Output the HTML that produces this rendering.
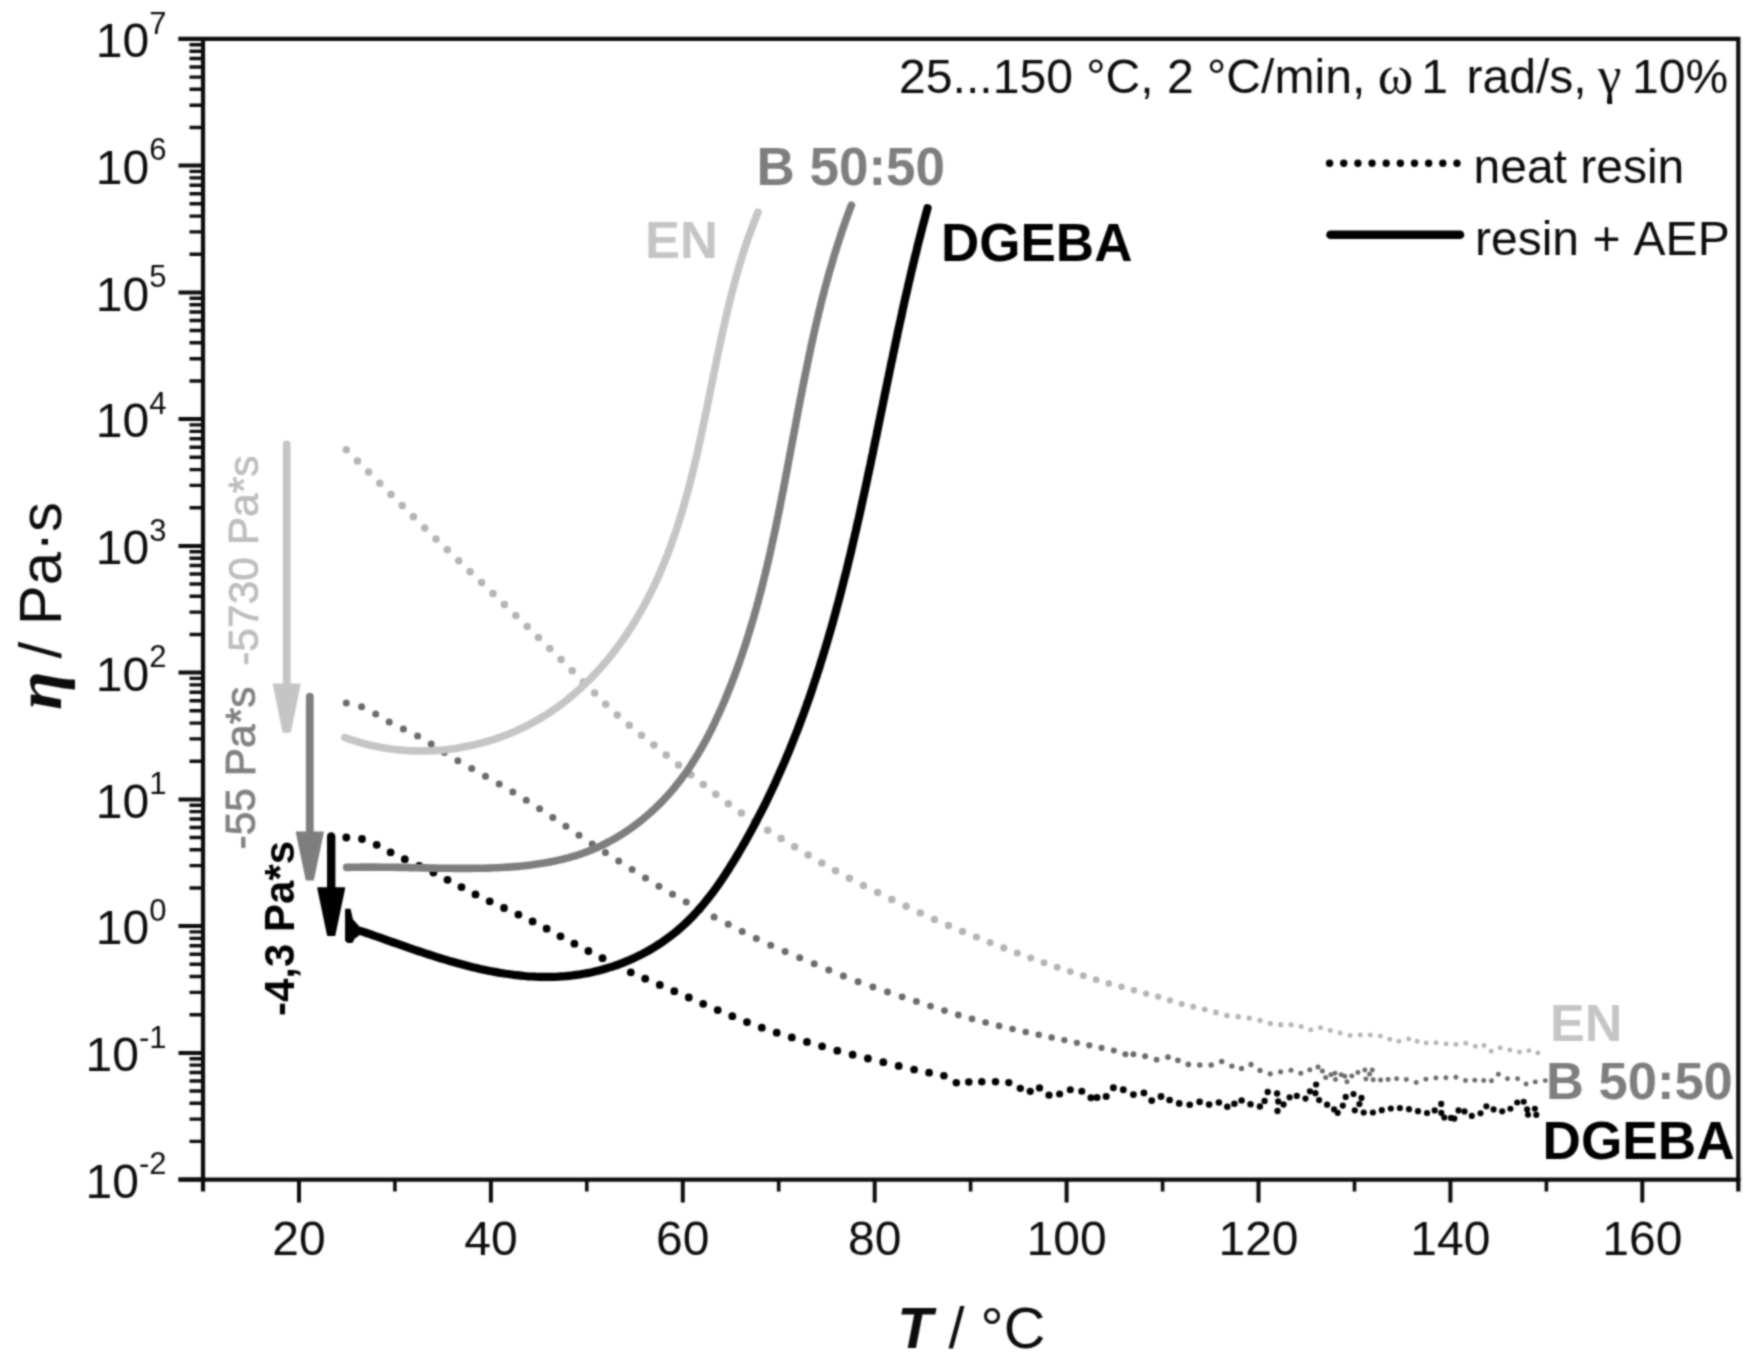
<!DOCTYPE html>
<html lang="en"><head><meta charset="utf-8"><title>Viscosity vs temperature</title>
<style>html,body{margin:0;padding:0;background:#fff}svg{display:block}text{font-family:"Liberation Sans", Arial, Helvetica, sans-serif}</style></head><body>
<svg width="1752" height="1370" viewBox="0 0 1752 1370">
<defs><filter id="soft" color-interpolation-filters="sRGB" filterUnits="userSpaceOnUse" x="0" y="0" width="1752" height="1370"><feConvolveMatrix order="5" kernelMatrix="1 7 16 7 1 7 49 112 49 7 16 112 256 112 16 7 49 112 49 7 1 7 16 7 1" divisor="1024" edgeMode="duplicate" preserveAlpha="false"/></filter></defs>
<rect width="1752" height="1370" fill="#fff"/>
<g filter="url(#soft)">
<rect width="1752" height="1370" fill="#fff"/>
<g id="plot">
<g fill="#b4b4b4"><circle cx="346.3" cy="449.8" r="3.75"/><circle cx="357.5" cy="461.0" r="3.75"/><circle cx="368.6" cy="472.1" r="3.75"/><circle cx="379.8" cy="483.3" r="3.75"/><circle cx="391.0" cy="494.5" r="3.75"/><circle cx="402.2" cy="505.6" r="3.75"/><circle cx="413.4" cy="516.8" r="3.75"/><circle cx="424.7" cy="527.9" r="3.75"/><circle cx="436.0" cy="538.9" r="3.75"/><circle cx="447.3" cy="549.8" r="3.75"/><circle cx="458.7" cy="560.8" r="3.75"/><circle cx="470.1" cy="571.7" r="3.75"/><circle cx="481.6" cy="582.6" r="3.75"/><circle cx="493.0" cy="593.6" r="3.75"/><circle cx="504.4" cy="604.5" r="3.75"/><circle cx="515.8" cy="615.4" r="3.75"/><circle cx="527.2" cy="626.4" r="3.75"/><circle cx="538.5" cy="637.4" r="3.75"/><circle cx="549.8" cy="648.5" r="3.75"/><circle cx="561.0" cy="659.6" r="3.75"/><circle cx="572.2" cy="670.7" r="3.75"/><circle cx="583.4" cy="681.9" r="3.75"/><circle cx="594.6" cy="693.1" r="3.75"/><circle cx="605.7" cy="704.3" r="3.75"/><circle cx="617.2" cy="715.1" r="3.75"/><circle cx="629.3" cy="725.3" r="3.75"/><circle cx="641.5" cy="735.3" r="3.75"/><circle cx="653.9" cy="745.1" r="3.75"/><circle cx="666.2" cy="755.0" r="3.75"/><circle cx="678.5" cy="764.9" r="3.75"/><circle cx="690.9" cy="774.8" r="3.75"/><circle cx="703.3" cy="784.6" r="3.75"/><circle cx="715.8" cy="794.2" r="3.75"/><circle cx="728.4" cy="803.7" r="3.75"/><circle cx="741.3" cy="812.9" r="3.75"/><circle cx="754.4" cy="821.7" r="3.75"/><circle cx="767.7" cy="830.3" r="3.75"/><circle cx="781.1" cy="838.6" r="3.75"/><circle cx="794.6" cy="846.8" r="3.75"/><circle cx="808.1" cy="854.9" r="3.75"/><circle cx="821.8" cy="862.9" r="3.75"/><circle cx="835.5" cy="870.7" r="3.75"/><circle cx="849.4" cy="878.3" r="3.75"/><circle cx="863.4" cy="885.5" r="3.75"/><circle cx="877.6" cy="892.6" r="3.75"/><circle cx="891.8" cy="899.4" r="3.75"/><circle cx="906.1" cy="906.2" r="3.74"/><circle cx="920.3" cy="912.9" r="3.71"/><circle cx="934.4" cy="919.4" r="3.68"/><circle cx="948.5" cy="925.5" r="3.66"/><circle cx="962.5" cy="931.4" r="3.63"/><circle cx="976.4" cy="937.0" r="3.60"/><circle cx="990.1" cy="942.6" r="3.57"/><circle cx="1003.8" cy="947.9" r="3.55"/><circle cx="1017.3" cy="953.1" r="3.52"/><circle cx="1030.7" cy="958.1" r="3.50"/><circle cx="1044.0" cy="962.8" r="3.47"/><circle cx="1057.2" cy="967.3" r="3.44"/><circle cx="1070.3" cy="971.6" r="3.42"/><circle cx="1083.3" cy="975.7" r="3.39"/><circle cx="1096.2" cy="979.7" r="3.33"/><circle cx="1108.8" cy="983.6" r="3.28"/><circle cx="1121.5" cy="986.7" r="3.23"/><circle cx="1133.9" cy="990.2" r="3.18"/><circle cx="1146.1" cy="993.7" r="3.13"/><circle cx="1158.2" cy="996.7" r="3.08"/><circle cx="1169.9" cy="1000.4" r="3.03"/><circle cx="1181.6" cy="1003.9" r="2.98"/><circle cx="1193.2" cy="1006.7" r="2.94"/><circle cx="1204.7" cy="1009.3" r="2.89"/><circle cx="1215.9" cy="1012.4" r="2.84"/><circle cx="1226.9" cy="1015.5" r="2.80"/><circle cx="1238.2" cy="1016.7" r="2.75"/><circle cx="1249.2" cy="1018.1" r="2.71"/><circle cx="1260.0" cy="1020.3" r="2.66"/><circle cx="1270.3" cy="1023.4" r="2.62"/><circle cx="1280.7" cy="1024.7" r="2.58"/><circle cx="1291.1" cy="1024.7" r="2.54"/><circle cx="1301.2" cy="1026.5" r="2.50"/><circle cx="1310.7" cy="1029.8" r="2.50"/><circle cx="1320.6" cy="1027.7" r="2.49"/><circle cx="1330.3" cy="1030.6" r="2.49"/><circle cx="1340.2" cy="1033.0" r="2.49"/><circle cx="1350.0" cy="1035.5" r="2.48"/><circle cx="1360.2" cy="1035.1" r="2.48"/><circle cx="1370.3" cy="1035.0" r="2.48"/><circle cx="1380.3" cy="1036.1" r="2.47"/><circle cx="1389.7" cy="1039.2" r="2.47"/><circle cx="1399.0" cy="1041.3" r="2.47"/><circle cx="1408.7" cy="1039.0" r="2.46"/><circle cx="1417.1" cy="1041.3" r="2.46"/><circle cx="1426.2" cy="1043.0" r="2.46"/><circle cx="1436.1" cy="1042.8" r="2.45"/><circle cx="1446.1" cy="1043.9" r="2.45"/><circle cx="1455.9" cy="1044.4" r="2.45"/><circle cx="1465.8" cy="1043.3" r="2.44"/><circle cx="1475.3" cy="1046.2" r="2.44"/><circle cx="1484.1" cy="1045.5" r="2.44"/><circle cx="1491.2" cy="1051.2" r="2.44"/><circle cx="1500.2" cy="1047.8" r="2.43"/><circle cx="1509.9" cy="1050.0" r="2.43"/><circle cx="1519.4" cy="1052.0" r="2.43"/><circle cx="1528.9" cy="1050.6" r="2.42"/><circle cx="1537.9" cy="1052.9" r="2.42"/></g>
<g fill="#6a6a6a"><circle cx="346.3" cy="703.0" r="3.50"/><circle cx="361.6" cy="706.8" r="3.50"/><circle cx="375.7" cy="713.9" r="3.50"/><circle cx="389.2" cy="722.1" r="3.50"/><circle cx="403.4" cy="729.0" r="3.50"/><circle cx="417.6" cy="735.9" r="3.50"/><circle cx="431.2" cy="744.0" r="3.50"/><circle cx="444.4" cy="752.6" r="3.50"/><circle cx="457.9" cy="760.8" r="3.50"/><circle cx="471.7" cy="768.6" r="3.50"/><circle cx="485.5" cy="776.3" r="3.50"/><circle cx="499.2" cy="784.1" r="3.50"/><circle cx="512.8" cy="792.1" r="3.50"/><circle cx="526.3" cy="800.3" r="3.50"/><circle cx="539.6" cy="808.8" r="3.50"/><circle cx="552.8" cy="817.5" r="3.50"/><circle cx="565.9" cy="826.3" r="3.50"/><circle cx="579.0" cy="835.2" r="3.50"/><circle cx="592.2" cy="843.9" r="3.50"/><circle cx="605.4" cy="852.6" r="3.50"/><circle cx="618.7" cy="861.1" r="3.50"/><circle cx="632.1" cy="869.5" r="3.50"/><circle cx="645.5" cy="877.9" r="3.50"/><circle cx="658.9" cy="886.2" r="3.50"/><circle cx="672.5" cy="894.3" r="3.50"/><circle cx="686.2" cy="902.1" r="3.50"/><circle cx="700.1" cy="909.6" r="3.50"/><circle cx="714.1" cy="916.9" r="3.50"/><circle cx="728.2" cy="924.2" r="3.50"/><circle cx="742.2" cy="931.4" r="3.50"/><circle cx="756.3" cy="938.5" r="3.50"/><circle cx="770.7" cy="945.2" r="3.50"/><circle cx="785.1" cy="951.5" r="3.50"/><circle cx="799.7" cy="957.7" r="3.50"/><circle cx="814.2" cy="963.8" r="3.50"/><circle cx="828.8" cy="969.9" r="3.50"/><circle cx="843.4" cy="976.0" r="3.50"/><circle cx="858.1" cy="981.7" r="3.49"/><circle cx="872.9" cy="987.0" r="3.47"/><circle cx="887.5" cy="992.0" r="3.44"/><circle cx="902.1" cy="996.8" r="3.42"/><circle cx="916.4" cy="1001.4" r="3.40"/><circle cx="930.5" cy="1006.1" r="3.38"/><circle cx="944.5" cy="1010.6" r="3.36"/><circle cx="958.3" cy="1014.9" r="3.34"/><circle cx="972.0" cy="1018.9" r="3.32"/><circle cx="985.6" cy="1022.5" r="3.30"/><circle cx="999.1" cy="1025.9" r="3.28"/><circle cx="1012.5" cy="1029.0" r="3.26"/><circle cx="1025.7" cy="1031.9" r="3.24"/><circle cx="1038.7" cy="1034.7" r="3.22"/><circle cx="1051.6" cy="1037.5" r="3.20"/><circle cx="1064.3" cy="1040.1" r="3.16"/><circle cx="1076.9" cy="1042.8" r="3.12"/><circle cx="1089.3" cy="1045.3" r="3.09"/><circle cx="1101.6" cy="1047.9" r="3.06"/><circle cx="1113.8" cy="1050.6" r="3.02"/><circle cx="1125.4" cy="1054.3" r="2.99"/><circle cx="1133.4" cy="1054.2" r="2.97"/><circle cx="1145.1" cy="1056.3" r="2.93"/><circle cx="1156.6" cy="1059.7" r="2.90"/><circle cx="1168.0" cy="1057.1" r="2.87"/><circle cx="1177.9" cy="1060.3" r="2.84"/><circle cx="1188.3" cy="1064.4" r="2.81"/><circle cx="1199.8" cy="1065.0" r="2.78"/><circle cx="1211.2" cy="1065.0" r="2.75"/><circle cx="1221.7" cy="1061.5" r="2.72"/><circle cx="1231.9" cy="1066.1" r="2.69"/><circle cx="1241.5" cy="1068.5" r="2.66"/><circle cx="1251.0" cy="1064.5" r="2.64"/><circle cx="1260.0" cy="1070.4" r="2.61"/><circle cx="1270.2" cy="1073.8" r="2.58"/><circle cx="1280.6" cy="1071.7" r="2.55"/><circle cx="1291.0" cy="1070.2" r="2.53"/><circle cx="1300.8" cy="1073.2" r="2.50"/><circle cx="1309.8" cy="1069.7" r="2.50"/><circle cx="1318.0" cy="1066.9" r="2.50"/><circle cx="1322.4" cy="1071.0" r="2.50"/><circle cx="1325.7" cy="1077.6" r="2.50"/><circle cx="1330.9" cy="1074.8" r="2.49"/><circle cx="1335.0" cy="1073.3" r="2.49"/><circle cx="1335.5" cy="1079.5" r="2.49"/><circle cx="1341.2" cy="1074.7" r="2.49"/><circle cx="1344.8" cy="1076.3" r="2.49"/><circle cx="1347.0" cy="1081.7" r="2.49"/><circle cx="1351.8" cy="1076.1" r="2.49"/><circle cx="1357.9" cy="1072.4" r="2.49"/><circle cx="1364.9" cy="1070.0" r="2.49"/><circle cx="1372.3" cy="1070.0" r="2.49"/><circle cx="1369.6" cy="1074.2" r="2.49"/><circle cx="1365.9" cy="1078.9" r="2.49"/><circle cx="1373.2" cy="1079.8" r="2.49"/><circle cx="1380.6" cy="1080.0" r="2.49"/><circle cx="1388.1" cy="1079.6" r="2.49"/><circle cx="1396.6" cy="1078.8" r="2.48"/><circle cx="1406.3" cy="1079.5" r="2.48"/><circle cx="1416.2" cy="1082.5" r="2.48"/><circle cx="1425.9" cy="1079.2" r="2.48"/><circle cx="1435.9" cy="1077.9" r="2.48"/><circle cx="1445.9" cy="1077.8" r="2.48"/><circle cx="1455.9" cy="1077.2" r="2.47"/><circle cx="1465.5" cy="1080.5" r="2.47"/><circle cx="1474.8" cy="1080.3" r="2.47"/><circle cx="1483.7" cy="1080.5" r="2.47"/><circle cx="1491.5" cy="1080.7" r="2.47"/><circle cx="1498.4" cy="1074.3" r="2.47"/><circle cx="1507.5" cy="1078.8" r="2.47"/><circle cx="1517.6" cy="1078.8" r="2.46"/><circle cx="1526.1" cy="1084.0" r="2.46"/><circle cx="1535.3" cy="1081.9" r="2.46"/><circle cx="1545.3" cy="1080.6" r="2.46"/></g>
<g fill="#000"><circle cx="346.3" cy="837.5" r="3.90"/><circle cx="362.0" cy="839.0" r="3.90"/><circle cx="376.7" cy="844.8" r="3.90"/><circle cx="390.6" cy="852.3" r="3.90"/><circle cx="404.8" cy="859.2" r="3.90"/><circle cx="419.2" cy="865.8" r="3.90"/><circle cx="433.4" cy="872.6" r="3.90"/><circle cx="447.5" cy="879.8" r="3.90"/><circle cx="461.5" cy="887.1" r="3.90"/><circle cx="475.5" cy="894.4" r="3.90"/><circle cx="489.7" cy="901.3" r="3.90"/><circle cx="504.0" cy="908.0" r="3.90"/><circle cx="518.4" cy="914.6" r="3.90"/><circle cx="532.6" cy="921.4" r="3.90"/><circle cx="546.6" cy="928.7" r="3.90"/><circle cx="560.5" cy="936.3" r="3.90"/><circle cx="574.4" cy="943.7" r="3.90"/><circle cx="588.4" cy="951.0" r="3.90"/><circle cx="602.5" cy="958.2" r="3.90"/><circle cx="616.6" cy="965.3" r="3.90"/><circle cx="630.8" cy="972.3" r="3.90"/><circle cx="645.2" cy="978.7" r="3.90"/><circle cx="659.8" cy="984.9" r="3.90"/><circle cx="674.3" cy="991.2" r="3.90"/><circle cx="688.8" cy="997.5" r="3.90"/><circle cx="703.2" cy="1003.8" r="3.90"/><circle cx="717.7" cy="1010.1" r="3.90"/><circle cx="732.3" cy="1016.2" r="3.90"/><circle cx="747.0" cy="1022.1" r="3.90"/><circle cx="761.8" cy="1027.7" r="3.90"/><circle cx="776.7" cy="1032.7" r="3.90"/><circle cx="791.8" cy="1037.4" r="3.90"/><circle cx="807.0" cy="1041.9" r="3.90"/><circle cx="822.1" cy="1046.3" r="3.90"/><circle cx="837.3" cy="1050.7" r="3.90"/><circle cx="852.6" cy="1054.7" r="3.90"/><circle cx="867.9" cy="1058.5" r="3.90"/><circle cx="883.3" cy="1062.2" r="3.90"/><circle cx="898.7" cy="1065.9" r="3.90"/><circle cx="914.1" cy="1069.5" r="3.87"/><circle cx="929.1" cy="1072.7" r="3.84"/><circle cx="943.9" cy="1075.8" r="3.81"/><circle cx="956.3" cy="1082.7" r="3.79"/><circle cx="968.8" cy="1082.0" r="3.76"/><circle cx="981.8" cy="1081.8" r="3.74"/><circle cx="995.5" cy="1081.8" r="3.71"/><circle cx="1008.8" cy="1082.6" r="3.68"/><circle cx="1020.3" cy="1088.3" r="3.66"/><circle cx="1030.2" cy="1091.3" r="3.64"/><circle cx="1039.5" cy="1087.9" r="3.62"/><circle cx="1049.0" cy="1095.2" r="3.60"/><circle cx="1059.6" cy="1094.0" r="3.58"/><circle cx="1070.3" cy="1089.7" r="3.56"/><circle cx="1081.8" cy="1091.2" r="3.54"/><circle cx="1090.9" cy="1097.8" r="3.52"/><circle cx="1097.0" cy="1097.6" r="3.51"/><circle cx="1106.2" cy="1096.5" r="3.49"/><circle cx="1113.4" cy="1087.7" r="3.47"/><circle cx="1123.3" cy="1089.8" r="3.45"/><circle cx="1133.4" cy="1094.6" r="3.43"/><circle cx="1143.9" cy="1092.9" r="3.41"/><circle cx="1151.7" cy="1100.6" r="3.40"/><circle cx="1161.0" cy="1096.5" r="3.38"/><circle cx="1169.6" cy="1100.0" r="3.36"/><circle cx="1179.2" cy="1103.4" r="3.34"/><circle cx="1189.7" cy="1104.8" r="3.32"/><circle cx="1199.6" cy="1101.9" r="3.30"/><circle cx="1209.1" cy="1104.6" r="3.28"/><circle cx="1218.9" cy="1102.6" r="3.26"/><circle cx="1227.3" cy="1106.7" r="3.25"/><circle cx="1234.4" cy="1103.8" r="3.23"/><circle cx="1241.6" cy="1100.4" r="3.22"/><circle cx="1250.5" cy="1104.2" r="3.20"/><circle cx="1259.9" cy="1106.5" r="3.18"/><circle cx="1264.6" cy="1100.9" r="3.17"/><circle cx="1267.7" cy="1092.0" r="3.16"/><circle cx="1277.1" cy="1093.5" r="3.15"/><circle cx="1278.2" cy="1101.5" r="3.14"/><circle cx="1277.5" cy="1111.0" r="3.14"/><circle cx="1283.5" cy="1104.5" r="3.13"/><circle cx="1289.6" cy="1097.3" r="3.12"/><circle cx="1296.8" cy="1095.9" r="3.11"/><circle cx="1305.5" cy="1098.6" r="3.10"/><circle cx="1309.9" cy="1091.3" r="3.10"/><circle cx="1316.1" cy="1084.5" r="3.10"/><circle cx="1315.4" cy="1093.2" r="3.10"/><circle cx="1319.1" cy="1100.1" r="3.10"/><circle cx="1327.1" cy="1104.7" r="3.10"/><circle cx="1334.1" cy="1109.4" r="3.09"/><circle cx="1337.7" cy="1112.8" r="3.09"/><circle cx="1342.8" cy="1105.6" r="3.09"/><circle cx="1345.7" cy="1096.9" r="3.09"/><circle cx="1353.5" cy="1094.0" r="3.09"/><circle cx="1361.5" cy="1097.9" r="3.09"/><circle cx="1359.4" cy="1104.0" r="3.09"/><circle cx="1354.8" cy="1110.3" r="3.09"/><circle cx="1363.7" cy="1112.5" r="3.09"/><circle cx="1372.9" cy="1112.5" r="3.09"/><circle cx="1381.8" cy="1110.2" r="3.09"/><circle cx="1390.8" cy="1108.5" r="3.08"/><circle cx="1399.9" cy="1108.0" r="3.08"/><circle cx="1409.0" cy="1109.2" r="3.08"/><circle cx="1418.0" cy="1111.2" r="3.08"/><circle cx="1427.0" cy="1113.0" r="3.08"/><circle cx="1434.7" cy="1110.4" r="3.08"/><circle cx="1441.2" cy="1103.9" r="3.08"/><circle cx="1441.3" cy="1112.9" r="3.08"/><circle cx="1444.3" cy="1117.5" r="3.08"/><circle cx="1451.0" cy="1117.9" r="3.07"/><circle cx="1454.4" cy="1118.6" r="3.07"/><circle cx="1458.5" cy="1110.4" r="3.07"/><circle cx="1464.5" cy="1111.4" r="3.07"/><circle cx="1471.8" cy="1115.9" r="3.07"/><circle cx="1480.5" cy="1113.3" r="3.07"/><circle cx="1486.4" cy="1106.3" r="3.07"/><circle cx="1493.6" cy="1109.4" r="3.07"/><circle cx="1502.2" cy="1111.3" r="3.07"/><circle cx="1510.4" cy="1108.7" r="3.06"/><circle cx="1517.2" cy="1102.5" r="3.06"/><circle cx="1523.7" cy="1101.7" r="3.06"/><circle cx="1527.1" cy="1109.4" r="3.06"/><circle cx="1528.0" cy="1114.8" r="3.06"/><circle cx="1534.9" cy="1108.7" r="3.06"/><circle cx="1536.3" cy="1114.9" r="3.06"/></g>
<path d="M344.8 737.5 L347.3 738.4 L349.8 739.3 L352.3 740.1 L354.9 740.9 L357.4 741.7 L360.0 742.5 L362.5 743.2 L365.1 743.9 L367.6 744.5 L370.2 745.1 L372.7 745.7 L375.3 746.3 L377.9 746.8 L380.5 747.3 L383.1 747.7 L385.7 748.2 L388.2 748.6 L390.8 748.9 L393.4 749.3 L396.0 749.6 L398.6 749.9 L401.2 750.1 L403.8 750.3 L406.4 750.5 L409.0 750.7 L411.6 750.8 L414.2 750.9 L416.8 750.9 L419.4 751.0 L422.0 751.0 L424.6 750.9 L427.2 750.9 L429.8 750.8 L432.4 750.7 L435.0 750.6 L437.6 750.4 L440.2 750.2 L442.8 750.0 L445.4 749.7 L447.9 749.4 L450.5 749.1 L453.1 748.8 L455.6 748.4 L458.2 748.0 L460.7 747.6 L463.3 747.1 L465.8 746.6 L468.3 746.1 L470.9 745.6 L473.4 745.0 L475.9 744.4 L478.4 743.8 L480.9 743.2 L483.4 742.5 L485.8 741.8 L488.3 741.1 L490.8 740.3 L493.2 739.6 L495.7 738.8 L498.1 737.9 L500.5 737.1 L502.9 736.2 L505.3 735.3 L507.7 734.4 L510.1 733.4 L512.4 732.4 L514.8 731.4 L517.1 730.4 L519.5 729.3 L521.8 728.2 L524.1 727.1 L526.4 726.0 L528.6 724.8 L530.9 723.6 L533.1 722.4 L535.4 721.2 L537.6 719.9 L539.8 718.7 L542.0 717.3 L544.1 716.0 L546.3 714.7 L548.4 713.3 L550.6 711.9 L552.7 710.5 L554.7 709.0 L556.8 707.6 L558.9 706.1 L560.9 704.6 L562.9 703.0 L565.0 701.5 L567.0 699.9 L568.9 698.3 L570.9 696.7 L572.8 695.1 L574.8 693.4 L576.7 691.7 L578.6 690.0 L580.5 688.3 L582.3 686.6 L584.2 684.8 L586.0 683.1 L587.9 681.3 L589.7 679.5 L591.5 677.7 L593.2 675.8 L595.0 674.0 L596.7 672.1 L598.5 670.2 L600.2 668.3 L601.9 666.4 L603.5 664.5 L605.2 662.6 L606.8 660.6 L608.5 658.6 L610.1 656.6 L611.7 654.6 L613.3 652.6 L614.8 650.6 L616.4 648.5 L617.9 646.5 L619.4 644.4 L620.9 642.3 L622.4 640.3 L623.9 638.2 L625.4 636.0 L626.8 633.9 L628.2 631.8 L629.6 629.6 L631.0 627.5 L632.4 625.3 L633.8 623.1 L635.1 621.0 L636.4 618.8 L637.7 616.6 L639.0 614.4 L640.3 612.1 L641.6 609.9 L642.8 607.7 L644.1 605.4 L645.3 603.2 L646.5 600.9 L647.7 598.7 L648.8 596.4 L650.0 594.1 L651.1 591.9 L652.3 589.6 L653.4 587.3 L654.5 585.0 L655.5 582.7 L656.6 580.3 L657.7 578.0 L658.7 575.7 L659.7 573.4 L660.7 571.0 L661.7 568.7 L662.7 566.3 L663.7 564.0 L664.7 561.6 L665.6 559.2 L666.6 556.9 L667.5 554.5 L668.4 552.1 L669.3 549.7 L670.2 547.3 L671.1 544.9 L671.9 542.5 L672.8 540.1 L673.6 537.7 L674.5 535.3 L675.3 532.8 L676.1 530.4 L676.9 528.0 L677.7 525.5 L678.5 523.1 L679.3 520.6 L680.0 518.2 L680.8 515.7 L681.5 513.3 L682.3 510.8 L683.0 508.3 L683.7 505.9 L684.4 503.4 L685.1 500.9 L685.8 498.4 L686.5 496.0 L687.2 493.5 L687.9 491.0 L688.5 488.5 L689.2 486.0 L689.8 483.5 L690.5 481.0 L691.1 478.5 L691.8 476.0 L692.4 473.5 L693.0 471.0 L693.6 468.4 L694.2 465.9 L694.8 463.4 L695.4 460.9 L696.0 458.4 L696.6 455.8 L697.2 453.3 L697.7 450.8 L698.3 448.2 L698.9 445.7 L699.4 443.2 L700.0 440.6 L700.6 438.1 L701.1 435.6 L701.7 433.0 L702.2 430.5 L702.7 427.9 L703.3 425.4 L703.8 422.8 L704.4 420.3 L704.9 417.7 L705.4 415.2 L705.9 412.7 L706.5 410.1 L707.0 407.6 L707.5 405.0 L708.0 402.5 L708.5 399.9 L709.1 397.4 L709.6 394.8 L710.1 392.3 L710.6 389.7 L711.1 387.2 L711.6 384.6 L712.2 382.1 L712.7 379.5 L713.2 377.0 L713.7 374.4 L714.2 371.9 L714.7 369.3 L715.3 366.8 L715.8 364.3 L716.3 361.7 L716.8 359.2 L717.4 356.6 L717.9 354.1 L718.4 351.6 L719.0 349.0 L719.5 346.5 L720.0 344.0 L720.6 341.4 L721.1 338.9 L721.7 336.4 L722.2 333.9 L722.8 331.4 L723.3 328.8 L723.9 326.3 L724.4 323.8 L725.0 321.3 L725.6 318.8 L726.2 316.3 L726.8 313.8 L727.3 311.3 L727.9 308.8 L728.5 306.3 L729.1 303.8 L729.8 301.3 L730.4 298.8 L731.0 296.3 L731.6 293.9 L732.3 291.4 L732.9 288.9 L733.6 286.5 L734.2 284.0 L734.9 281.5 L735.5 279.1 L736.2 276.6 L736.9 274.2 L737.6 271.7 L738.3 269.3 L739.0 266.9 L739.7 264.4 L740.5 262.0 L741.2 259.6 L741.9 257.2 L742.7 254.8 L743.4 252.4 L744.2 250.0 L745.0 247.6 L745.8 245.2 L746.6 242.8 L747.4 240.4 L748.2 238.0 L749.1 235.7 L749.9 233.3 L750.8 231.0 L751.6 228.6 L752.5 226.3 L753.4 223.9 L754.3 221.6 L755.2 219.3 L756.1 216.9 L757.0 214.6 L758.0 212.3" fill="none" stroke="#c5c5c5" stroke-width="7.6" stroke-linecap="round" stroke-linejoin="round"/>
<path d="M346.7 867.4 L349.7 867.4 L352.7 867.3 L355.8 867.2 L358.8 867.2 L361.9 867.1 L364.9 867.1 L368.0 867.1 L371.1 867.1 L374.2 867.1 L377.3 867.1 L380.4 867.2 L383.6 867.2 L386.7 867.2 L389.9 867.3 L393.1 867.3 L396.3 867.4 L399.4 867.4 L402.7 867.5 L405.9 867.5 L409.1 867.6 L412.3 867.7 L415.6 867.7 L418.8 867.8 L422.0 867.9 L425.3 867.9 L428.6 868.0 L431.8 868.1 L435.1 868.1 L438.4 868.2 L441.7 868.2 L445.0 868.3 L448.3 868.3 L451.6 868.3 L454.9 868.4 L458.2 868.4 L461.5 868.4 L464.8 868.4 L468.2 868.4 L471.5 868.4 L474.8 868.3 L478.1 868.3 L481.4 868.2 L484.8 868.2 L488.1 868.1 L491.4 868.0 L494.7 867.8 L498.0 867.7 L501.3 867.5 L504.6 867.3 L507.9 867.1 L511.2 866.9 L514.5 866.6 L517.8 866.4 L521.1 866.1 L524.4 865.7 L527.6 865.4 L530.9 865.0 L534.1 864.5 L537.3 864.1 L540.6 863.6 L543.8 863.1 L547.0 862.5 L550.2 861.9 L553.3 861.3 L556.5 860.6 L559.6 859.9 L562.8 859.2 L565.9 858.4 L569.0 857.6 L572.0 856.7 L575.1 855.8 L578.2 854.8 L581.2 853.8 L584.2 852.7 L587.2 851.6 L590.1 850.5 L593.1 849.3 L596.0 848.0 L598.9 846.7 L601.8 845.4 L604.6 844.0 L607.5 842.5 L610.3 841.0 L613.1 839.5 L615.8 837.9 L618.6 836.3 L621.3 834.6 L624.0 832.9 L626.6 831.1 L629.3 829.3 L631.9 827.5 L634.5 825.6 L637.0 823.7 L639.6 821.7 L642.1 819.7 L644.5 817.7 L647.0 815.6 L649.4 813.5 L651.8 811.4 L654.1 809.2 L656.5 807.0 L658.8 804.8 L661.0 802.5 L663.3 800.2 L665.5 797.8 L667.6 795.5 L669.8 793.1 L671.9 790.6 L674.0 788.2 L676.0 785.7 L678.0 783.2 L680.0 780.7 L681.9 778.1 L683.8 775.5 L685.7 772.9 L687.5 770.3 L689.4 767.6 L691.1 764.9 L692.9 762.2 L694.6 759.5 L696.3 756.8 L698.0 754.0 L699.6 751.3 L701.2 748.5 L702.8 745.7 L704.4 742.8 L705.9 740.0 L707.5 737.1 L708.9 734.3 L710.4 731.4 L711.9 728.5 L713.3 725.6 L714.7 722.7 L716.1 719.7 L717.4 716.8 L718.8 713.8 L720.1 710.9 L721.4 707.9 L722.7 705.0 L724.0 702.0 L725.3 699.0 L726.5 696.0 L727.7 693.0 L728.9 690.0 L730.1 687.0 L731.3 684.0 L732.5 681.0 L733.6 678.0 L734.8 675.0 L735.9 671.9 L737.0 668.9 L738.1 665.9 L739.2 662.8 L740.2 659.8 L741.3 656.8 L742.3 653.7 L743.4 650.6 L744.4 647.6 L745.4 644.5 L746.4 641.5 L747.3 638.4 L748.3 635.3 L749.3 632.2 L750.2 629.1 L751.1 626.1 L752.0 623.0 L753.0 619.9 L753.9 616.8 L754.7 613.7 L755.6 610.6 L756.5 607.5 L757.3 604.4 L758.2 601.2 L759.0 598.1 L759.8 595.0 L760.7 591.9 L761.5 588.8 L762.3 585.6 L763.1 582.5 L763.8 579.4 L764.6 576.2 L765.4 573.1 L766.1 570.0 L766.9 566.8 L767.6 563.7 L768.4 560.5 L769.1 557.4 L769.8 554.2 L770.5 551.1 L771.2 547.9 L771.9 544.7 L772.6 541.6 L773.3 538.4 L774.0 535.3 L774.7 532.1 L775.4 528.9 L776.0 525.8 L776.7 522.6 L777.3 519.4 L778.0 516.2 L778.6 513.1 L779.3 509.9 L779.9 506.7 L780.5 503.5 L781.2 500.3 L781.8 497.2 L782.4 494.0 L783.1 490.8 L783.7 487.6 L784.3 484.4 L784.9 481.2 L785.5 478.1 L786.1 474.9 L786.7 471.7 L787.3 468.5 L787.9 465.3 L788.5 462.1 L789.1 458.9 L789.7 455.7 L790.3 452.5 L790.9 449.4 L791.5 446.2 L792.1 443.0 L792.7 439.8 L793.3 436.6 L793.9 433.4 L794.5 430.2 L795.1 427.0 L795.7 423.8 L796.3 420.6 L796.9 417.5 L797.5 414.3 L798.1 411.1 L798.7 407.9 L799.3 404.7 L799.9 401.5 L800.5 398.3 L801.2 395.2 L801.8 392.0 L802.4 388.8 L803.0 385.6 L803.7 382.4 L804.3 379.3 L804.9 376.1 L805.6 372.9 L806.2 369.7 L806.9 366.6 L807.5 363.4 L808.2 360.2 L808.8 357.1 L809.5 353.9 L810.2 350.7 L810.8 347.6 L811.5 344.4 L812.2 341.3 L812.9 338.1 L813.6 334.9 L814.3 331.8 L815.0 328.6 L815.8 325.5 L816.5 322.4 L817.2 319.2 L818.0 316.1 L818.7 312.9 L819.5 309.8 L820.3 306.7 L821.0 303.5 L821.8 300.4 L822.6 297.3 L823.4 294.2 L824.2 291.1 L825.0 287.9 L825.9 284.8 L826.7 281.7 L827.6 278.6 L828.4 275.5 L829.3 272.4 L830.2 269.3 L831.1 266.2 L832.0 263.1 L832.9 260.1 L833.8 257.0 L834.7 253.9 L835.7 250.8 L836.6 247.8 L837.6 244.7 L838.6 241.6 L839.6 238.6 L840.6 235.5 L841.6 232.5 L842.6 229.4 L843.7 226.4 L844.7 223.4 L845.8 220.3 L846.9 217.3 L848.0 214.3 L849.1 211.3 L850.2 208.2 L851.4 205.2" fill="none" stroke="#7e7e7e" stroke-width="7.6" stroke-linecap="round" stroke-linejoin="round"/>
<path d="M360.1 930.8 L363.3 931.9 L366.6 933.0 L370.0 934.1 L373.3 935.3 L376.6 936.5 L380.0 937.7 L383.4 938.9 L386.8 940.1 L390.2 941.3 L393.7 942.5 L397.1 943.7 L400.6 944.9 L404.1 946.1 L407.6 947.4 L411.1 948.6 L414.7 949.8 L418.2 951.0 L421.8 952.2 L425.3 953.4 L428.9 954.5 L432.5 955.7 L436.1 956.9 L439.7 958.0 L443.4 959.1 L447.0 960.2 L450.6 961.3 L454.3 962.3 L457.9 963.3 L461.6 964.3 L465.3 965.3 L469.0 966.3 L472.7 967.2 L476.4 968.0 L480.1 968.9 L483.8 969.7 L487.5 970.5 L491.2 971.2 L494.9 971.9 L498.6 972.6 L502.3 973.2 L506.1 973.8 L509.8 974.3 L513.5 974.8 L517.2 975.2 L520.9 975.6 L524.7 976.0 L528.4 976.3 L532.1 976.5 L535.8 976.7 L539.5 976.8 L543.3 976.9 L547.0 976.9 L550.7 976.9 L554.4 976.8 L558.1 976.7 L561.8 976.4 L565.4 976.2 L569.1 975.8 L572.8 975.4 L576.4 974.9 L580.1 974.4 L583.7 973.8 L587.4 973.1 L591.0 972.4 L594.6 971.6 L598.2 970.7 L601.8 969.8 L605.3 968.8 L608.9 967.7 L612.4 966.6 L615.9 965.4 L619.4 964.1 L622.8 962.8 L626.3 961.4 L629.7 960.0 L633.0 958.5 L636.4 956.9 L639.7 955.3 L643.0 953.6 L646.2 951.9 L649.4 950.1 L652.6 948.2 L655.8 946.3 L658.9 944.3 L661.9 942.3 L664.9 940.2 L667.9 938.0 L670.9 935.8 L673.7 933.6 L676.6 931.3 L679.4 928.9 L682.1 926.5 L684.8 924.0 L687.5 921.5 L690.1 918.9 L692.6 916.3 L695.2 913.6 L697.6 910.9 L700.1 908.1 L702.5 905.3 L704.8 902.5 L707.1 899.6 L709.4 896.7 L711.7 893.8 L713.9 890.8 L716.1 887.8 L718.2 884.8 L720.3 881.8 L722.4 878.7 L724.5 875.6 L726.5 872.5 L728.6 869.3 L730.5 866.2 L732.5 863.0 L734.5 859.8 L736.4 856.6 L738.3 853.5 L740.2 850.2 L742.1 847.0 L743.9 843.8 L745.8 840.6 L747.6 837.3 L749.4 834.1 L751.2 830.8 L752.9 827.6 L754.7 824.3 L756.4 821.0 L758.1 817.7 L759.8 814.4 L761.5 811.1 L763.2 807.8 L764.9 804.5 L766.5 801.2 L768.1 797.9 L769.7 794.5 L771.3 791.2 L772.9 787.8 L774.5 784.5 L776.0 781.1 L777.5 777.7 L779.0 774.4 L780.5 771.0 L782.0 767.6 L783.5 764.2 L785.0 760.8 L786.4 757.4 L787.8 754.0 L789.3 750.6 L790.7 747.1 L792.0 743.7 L793.4 740.3 L794.8 736.8 L796.1 733.4 L797.5 729.9 L798.8 726.5 L800.1 723.0 L801.4 719.5 L802.7 716.1 L804.0 712.6 L805.2 709.1 L806.5 705.6 L807.7 702.1 L809.0 698.6 L810.2 695.1 L811.4 691.6 L812.6 688.1 L813.7 684.5 L814.9 681.0 L816.1 677.5 L817.2 674.0 L818.4 670.4 L819.5 666.9 L820.6 663.3 L821.7 659.8 L822.8 656.2 L823.9 652.7 L825.0 649.1 L826.1 645.6 L827.1 642.0 L828.2 638.4 L829.2 634.8 L830.2 631.3 L831.3 627.7 L832.3 624.1 L833.3 620.5 L834.3 616.9 L835.3 613.3 L836.3 609.7 L837.2 606.1 L838.2 602.5 L839.2 598.9 L840.1 595.3 L841.0 591.7 L842.0 588.0 L842.9 584.4 L843.8 580.8 L844.7 577.2 L845.7 573.6 L846.6 569.9 L847.5 566.3 L848.3 562.7 L849.2 559.0 L850.1 555.4 L851.0 551.8 L851.8 548.1 L852.7 544.5 L853.5 540.8 L854.4 537.2 L855.2 533.5 L856.1 529.9 L856.9 526.2 L857.7 522.6 L858.6 518.9 L859.4 515.3 L860.2 511.6 L861.0 508.0 L861.8 504.3 L862.6 500.7 L863.4 497.0 L864.2 493.3 L865.0 489.7 L865.8 486.0 L866.6 482.4 L867.4 478.7 L868.1 475.0 L868.9 471.4 L869.7 467.7 L870.5 464.1 L871.2 460.4 L872.0 456.7 L872.8 453.1 L873.5 449.4 L874.3 445.7 L875.0 442.1 L875.8 438.4 L876.6 434.8 L877.3 431.1 L878.1 427.4 L878.8 423.8 L879.6 420.1 L880.3 416.5 L881.1 412.8 L881.8 409.2 L882.6 405.5 L883.3 401.8 L884.1 398.2 L884.8 394.5 L885.6 390.9 L886.3 387.2 L887.1 383.6 L887.8 379.9 L888.6 376.3 L889.3 372.7 L890.1 369.0 L890.8 365.4 L891.6 361.7 L892.4 358.1 L893.1 354.5 L893.9 350.8 L894.7 347.2 L895.4 343.6 L896.2 340.0 L897.0 336.3 L897.7 332.7 L898.5 329.1 L899.3 325.5 L900.1 321.9 L900.9 318.3 L901.7 314.7 L902.4 311.1 L903.2 307.5 L904.0 303.9 L904.8 300.3 L905.6 296.7 L906.5 293.1 L907.3 289.5 L908.1 285.9 L908.9 282.4 L909.8 278.8 L910.6 275.2 L911.4 271.7 L912.3 268.1 L913.1 264.5 L914.0 261.0 L914.8 257.4 L915.7 253.9 L916.6 250.4 L917.4 246.8 L918.3 243.3 L919.2 239.8 L920.1 236.2 L921.0 232.7 L921.9 229.2 L922.8 225.7 L923.8 222.2 L924.7 218.7 L925.6 215.2 L926.6 211.7 L927.5 208.2" fill="none" stroke="#000" stroke-width="8.2" stroke-linecap="round" stroke-linejoin="round"/>
<path d="M345.6 909.2 L350.2 909.2 L352.4 919.3 L358.3 925.8 L359 935.2 L354.3 938.4 L352.3 942.4 L347.4 942.4 L345.6 940.8 Z" fill="#000" stroke="#000" stroke-width="1" stroke-linejoin="round"/>
</g>
<g id="axes" stroke="#0c0c0c" fill="none" stroke-linecap="butt">
<path d="M178.5 38.9 H1738.3 V1191.6" stroke-width="4.2"/>
<path d="M203.0 38.9 V1191.6 H203.0" stroke-width="4.2"/>
<path d="M178.5 1179.6 H1740.4" stroke-width="4.2"/>
<path d="M299.0 1179.6 v23 M490.9 1179.6 v23 M682.8 1179.6 v23 M874.7 1179.6 v23 M1066.6 1179.6 v23 M1258.5 1179.6 v23 M1450.4 1179.6 v23 M1642.3 1179.6 v23 " stroke-width="4"/>
<path d="M394.9 1179.6 v12 M586.8 1179.6 v12 M778.7 1179.6 v12 M970.6 1179.6 v12 M1162.6 1179.6 v12 M1354.5 1179.6 v12 M1546.4 1179.6 v12 " stroke-width="3.6"/>
<path d="M203.0 1179.6 H178.5 M203.0 1052.9 H178.5 M203.0 926.1 H178.5 M203.0 799.4 H178.5 M203.0 672.6 H178.5 M203.0 545.9 H178.5 M203.0 419.1 H178.5 M203.0 292.4 H178.5 M203.0 165.6 H178.5 M203.0 38.9 H178.5 " stroke-width="4"/>
<path d="M203.0 1141.4 H189.5 M203.0 1119.1 H189.5 M203.0 1103.3 H189.5 M203.0 1091.0 H189.5 M203.0 1081.0 H189.5 M203.0 1072.5 H189.5 M203.0 1065.1 H189.5 M203.0 1058.7 H189.5 M203.0 1014.7 H189.5 M203.0 992.4 H189.5 M203.0 976.5 H189.5 M203.0 964.3 H189.5 M203.0 954.2 H189.5 M203.0 945.7 H189.5 M203.0 938.4 H189.5 M203.0 931.9 H189.5 M203.0 888.0 H189.5 M203.0 865.6 H189.5 M203.0 849.8 H189.5 M203.0 837.5 H189.5 M203.0 827.5 H189.5 M203.0 819.0 H189.5 M203.0 811.6 H189.5 M203.0 805.2 H189.5 M203.0 761.2 H189.5 M203.0 738.9 H189.5 M203.0 723.1 H189.5 M203.0 710.8 H189.5 M203.0 700.7 H189.5 M203.0 692.3 H189.5 M203.0 684.9 H189.5 M203.0 678.4 H189.5 M203.0 634.5 H189.5 M203.0 612.1 H189.5 M203.0 596.3 H189.5 M203.0 584.0 H189.5 M203.0 574.0 H189.5 M203.0 565.5 H189.5 M203.0 558.2 H189.5 M203.0 551.7 H189.5 M203.0 507.7 H189.5 M203.0 485.4 H189.5 M203.0 469.6 H189.5 M203.0 457.3 H189.5 M203.0 447.3 H189.5 M203.0 438.8 H189.5 M203.0 431.4 H189.5 M203.0 424.9 H189.5 M203.0 381.0 H189.5 M203.0 358.7 H189.5 M203.0 342.8 H189.5 M203.0 330.5 H189.5 M203.0 320.5 H189.5 M203.0 312.0 H189.5 M203.0 304.7 H189.5 M203.0 298.2 H189.5 M203.0 254.2 H189.5 M203.0 231.9 H189.5 M203.0 216.1 H189.5 M203.0 203.8 H189.5 M203.0 193.8 H189.5 M203.0 185.3 H189.5 M203.0 177.9 H189.5 M203.0 171.4 H189.5 M203.0 127.5 H189.5 M203.0 105.2 H189.5 M203.0 89.3 H189.5 M203.0 77.1 H189.5 M203.0 67.0 H189.5 M203.0 58.5 H189.5 M203.0 51.2 H189.5 M203.0 44.7 H189.5 " stroke-width="3.4"/>
</g>
<g id="ticklabels" fill="#0c0c0c">
<text x="299.0" y="1255" font-size="48" text-anchor="middle">20</text>
<text x="490.9" y="1255" font-size="48" text-anchor="middle">40</text>
<text x="682.8" y="1255" font-size="48" text-anchor="middle">60</text>
<text x="874.7" y="1255" font-size="48" text-anchor="middle">80</text>
<text x="1066.6" y="1255" font-size="48" text-anchor="middle">100</text>
<text x="1258.5" y="1255" font-size="48" text-anchor="middle">120</text>
<text x="1450.4" y="1255" font-size="48" text-anchor="middle">140</text>
<text x="1642.3" y="1255" font-size="48" text-anchor="middle">160</text>
<text x="166.5" y="1197.8" font-size="48" text-anchor="end">10<tspan font-size="31" dy="-23.5">-2</tspan></text>
<text x="166.5" y="1071.1" font-size="48" text-anchor="end">10<tspan font-size="31" dy="-23.5">-1</tspan></text>
<text x="166.5" y="944.3" font-size="48" text-anchor="end">10<tspan font-size="31" dy="-23.5">0</tspan></text>
<text x="166.5" y="817.6" font-size="48" text-anchor="end">10<tspan font-size="31" dy="-23.5">1</tspan></text>
<text x="166.5" y="690.8" font-size="48" text-anchor="end">10<tspan font-size="31" dy="-23.5">2</tspan></text>
<text x="166.5" y="564.1" font-size="48" text-anchor="end">10<tspan font-size="31" dy="-23.5">3</tspan></text>
<text x="166.5" y="437.3" font-size="48" text-anchor="end">10<tspan font-size="31" dy="-23.5">4</tspan></text>
<text x="166.5" y="310.6" font-size="48" text-anchor="end">10<tspan font-size="31" dy="-23.5">5</tspan></text>
<text x="166.5" y="183.8" font-size="48" text-anchor="end">10<tspan font-size="31" dy="-23.5">6</tspan></text>
<text x="166.5" y="57.1" font-size="48" text-anchor="end">10<tspan font-size="31" dy="-23.5">7</tspan></text>
</g>
<text x="971.3" y="1347.8" font-size="57.7" text-anchor="middle" fill="#0c0c0c"><tspan font-weight="bold" font-style="italic">T</tspan> / °C</text>
<text transform="translate(61,710) rotate(-90) scale(1.07,1)" style='font-family:&quot;Liberation Serif&quot;, &quot;Times New Roman&quot;, serif' font-weight="bold" font-style="italic" font-size="66" fill="#0c0c0c">η</text>
<text transform="translate(61,658.6) rotate(-90)" font-size="60" fill="#0c0c0c">/ Pa·s</text>
<g font-size="48.1" fill="#0c0c0c"><text x="899.1" y="93.3">25...150 °C, 2 °C/min,</text><text x="1395.5" y="93.3" text-anchor="middle"><tspan font-family='"Liberation Serif", "Times New Roman", serif' font-size="54">ω</tspan></text><text x="1421.3" y="93.3">1</text><text x="1466.4" y="93.3">rad/s,</text><text x="1609.6" y="93.3" text-anchor="middle"><tspan font-family='"Liberation Serif", "Times New Roman", serif' font-size="53">γ</tspan></text><text x="1632" y="93.3">10%</text></g>
<path d="M1329.6 163.3 H1458" fill="none" stroke="#000" stroke-width="7.4" stroke-linecap="round" stroke-dasharray="0.01 14.14"/>
<path d="M1330.5 234.8 H1460" fill="none" stroke="#000" stroke-width="8.6" stroke-linecap="round"/>
<text x="1473.5" y="182.5" font-size="48" fill="#0c0c0c">neat resin</text>
<text x="1475" y="255" font-size="48" fill="#0c0c0c">resin + <tspan dx="2.5">AEP</tspan></text>
<g font-weight="bold" font-size="52">
<text x="645" y="257.5" font-size="52.5" fill="#c5c5c5">EN</text>
<text x="756.5" y="185" font-size="53" fill="#7e7e7e">B 50:50</text>
<text x="941" y="261.3" font-size="53" fill="#000">DGEBA</text>
<text x="1550" y="1041.2" fill="#c5c5c5">EN</text>
<text x="1546" y="1099" font-size="52.5" fill="#7e7e7e">B 50:50</text>
<text x="1542.5" y="1158.6" font-size="53.2" fill="#000">DGEBA</text>
</g>
<path d="M286.7 444.4 V687.4" stroke="#c5c5c5" stroke-width="7.8" stroke-linecap="round" fill="none"/>
<path d="M273.5 684.2 L299.9 684.2 L290.1 732.0 L283.3 732.0 Z" fill="#c5c5c5" stroke="#c5c5c5" stroke-width="1.6" stroke-linejoin="round"/>
<path d="M309.8 696.7 V835.5" stroke="#7e7e7e" stroke-width="7.8" stroke-linecap="round" fill="none"/>
<path d="M296.6 832.3 L323.0 832.3 L313.2 879.7 L306.4 879.7 Z" fill="#7e7e7e" stroke="#7e7e7e" stroke-width="1.6" stroke-linejoin="round"/>
<path d="M331.2 836.4 V891.2" stroke="#000" stroke-width="8.4" stroke-linecap="round" fill="none"/>
<path d="M318.0 888.0 L344.4 888.0 L334.6 935.2 L327.8 935.2 Z" fill="#000" stroke="#000" stroke-width="1.6" stroke-linejoin="round"/>
<text transform="translate(258,665.8) rotate(-90)" font-size="42.5" fill="#bdbdbd" stroke="#bdbdbd" stroke-width="0.7">-5730 Pa*s</text>
<text transform="translate(254.8,849.5) rotate(-90)" font-size="42.5" fill="#808080" stroke="#808080" stroke-width="0.8">-55 Pa*s</text>
<text transform="translate(294,1016) rotate(-90)" font-size="42" font-weight="bold" fill="#000">-4,3 Pa*s</text>
</g>
</svg></body></html>
